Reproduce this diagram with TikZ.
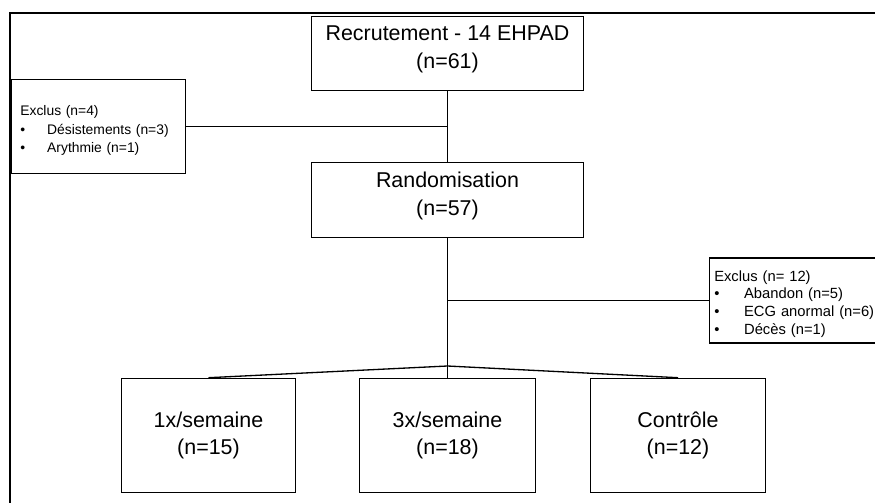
\documentclass[tikz,border=0pt]{standalone}
\usepackage{fontspec}
\setmainfont{Liberation Sans}

\tikzset{
  boite/.style={draw,line width=0.6pt,align=center,font=\fontsize{12.2}{15.5}\selectfont},
  exclus/.style={draw,line width=0.6pt,align=left,font=\fontsize{7.9}{10.5}\selectfont},
  lien/.style={line width=0.75pt}
}
\newcommand{\puce}[1][15.3pt]{\makebox[#1][l]{•}}

\begin{document}
\begin{tikzpicture}[x=0.02cm,y=-0.02cm,line join=miter]
\useasboundingbox (0,0) rectangle (875,503);
% cadre
\draw[line width=1.1pt] (10,515) -- (10,13) -- (885,13);
% boites principales
\node[boite,font=\fontsize{12.2}{16}\selectfont,minimum width=154.8pt,minimum height=42.5pt,text depth=7.6pt] (recr) at (447.5,53.5) {Recrutement - 14 EHPAD\\(n=61)};
\node[boite,font=\fontsize{12.2}{16}\selectfont,minimum width=154.8pt,minimum height=42.5pt,text depth=7.6pt] (rando) at (447.5,200) {Randomisation\\(n=57)};
\node[exclus,text width=89pt,inner xsep=5pt,minimum height=53.3pt,text height=10.2pt] (exclg) at (98.5,126.5) {Exclus (n=4)\\\puce Désistements (n=3)\\\puce Arythmie (n=1)};
\node[exclus,font=\fontsize{8.4}{10}\selectfont,text width=93.5pt,inner xsep=2.8pt,minimum height=48.2pt,text height=10pt] (excld) at (796.4,300.5) {Exclus (n= 12)\\\puce[17pt]Abandon (n=5)\\\puce[17pt]ECG anormal (n=6)\\\puce[17pt]Décès (n=1)};
% groupes
\node[boite,minimum width=99.2pt,minimum height=65.2pt] (un) at (208.5,435.5) {1x/semaine\\(n=15)};
\node[boite,minimum width=100.3pt,minimum height=65.2pt] (trois) at (447.5,435.5) {3x/semaine\\(n=18)};
\node[boite,minimum width=99.2pt,minimum height=65.2pt] (ctrl) at (678,435.5) {Contrôle\\(n=12)};
% liens
\coordinate (j1) at (447.5,126.5);
\coordinate (j2) at (447.5,300.5);
\coordinate (j3) at (447.5,366);
\draw[lien] (recr) -- (rando);
\draw[lien] (exclg) -- (j1);
\draw[lien] (rando) -- (trois);
\draw[lien] (j2) -- (excld);
\draw[lien] (j3) -- (un.north);
\draw[lien] (j3) -- (ctrl.north);
\end{tikzpicture}
\end{document}
